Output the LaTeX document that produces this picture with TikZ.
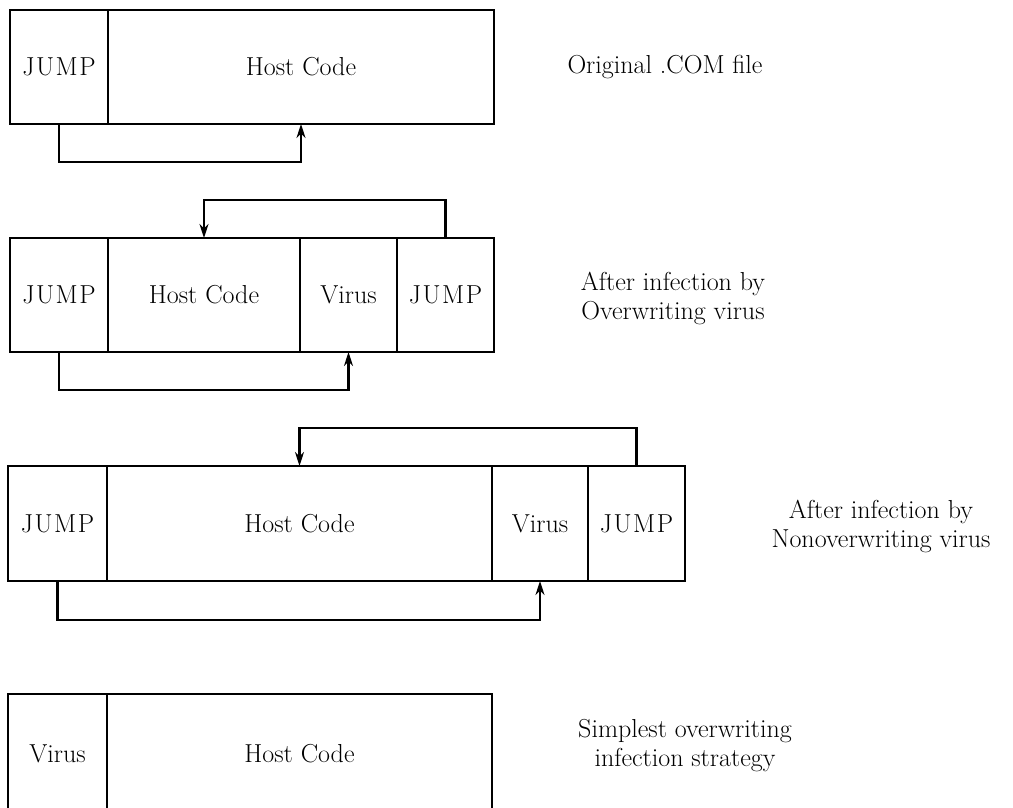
\documentclass[tikz,border=0pt]{standalone}
\usetikzlibrary{arrows.meta}
\newcommand{\jmp}{J\kern1.5pt U\kern1.5pt M\kern1.5pt P}
\begin{document}
\begin{tikzpicture}[x=1pt,y=-1pt,
  cell/.style={draw, line width=2.4pt, outer sep=0pt, inner sep=0pt, anchor=north west, font=\fontsize{26}{30}\selectfont},
  lbl/.style={align=center, font=\fontsize{26}{29}\selectfont},
  arr/.style={line width=2.2pt, -{Stealth[length=14pt,width=9pt]}}]
\useasboundingbox (0,0) rectangle (1013,808);
\clip (0,0) rectangle (1013,808);
% Row 1
\node[cell, minimum width=98pt, minimum height=114pt] (j1) at (10,10) {\jmp};
\node[cell, minimum width=386pt, minimum height=114pt] (h1) at (108,10) {Host Code};
\draw[arr] (j1.south) -- ++(0,38) -| (h1.south);
\node[lbl] (l1) at (665,67) {Original .COM file};
% Row 2
\node[cell, minimum width=98pt, minimum height=114pt] (j2a) at (10,238) {\jmp};
\node[cell, minimum width=192pt, minimum height=114pt] (h2) at (108,238) {Host Code};
\node[cell, minimum width=97pt, minimum height=114pt] (v2) at (300,238) {Virus};
\node[cell, minimum width=97pt, minimum height=114pt] (j2b) at (397,238) {\jmp};
\draw[arr] (j2a.south) -- ++(0,38) -| (v2.south);
\draw[arr] (j2b.north) -- ++(0,-38) -| (h2.north);
\node[lbl] (l2) at (673,298) {After infection by\\Overwriting virus};
% Row 3
\node[cell, minimum width=99pt, minimum height=115pt] (j3a) at (8,466) {\jmp};
\node[cell, minimum width=385pt, minimum height=115pt] (h3) at (107,466) {Host Code};
\node[cell, minimum width=96pt, minimum height=115pt] (v3) at (492,466) {Virus};
\node[cell, minimum width=97pt, minimum height=115pt] (j3b) at (588,466) {\jmp};
\draw[arr] (j3a.south) -- ++(0,39) -| (v3.south);
\draw[arr] (j3b.north) -- ++(0,-38) -| (h3.north);
\node[lbl] (l3) at (881,526) {After infection by\\Nonoverwriting virus};
% Row 4
\node[cell, minimum width=99pt, minimum height=120pt] (v4) at (8,694) {Virus};
\node[cell, minimum width=385pt, minimum height=120pt] (h4) at (107,694) {Host Code};
\node[lbl] (l4) at (685,746) {Simplest overwriting\\infection strategy};
\end{tikzpicture}
\end{document}
